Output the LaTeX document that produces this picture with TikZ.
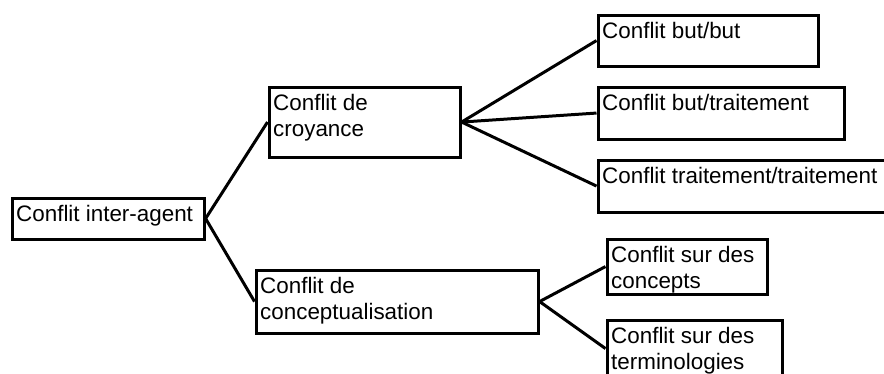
\documentclass[tikz,border=0pt]{standalone}
\usepackage{fontspec}
\setmainfont{Liberation Sans}
\usetikzlibrary{calc}

\begin{document}
\begin{tikzpicture}[x=1pt, y=-1pt]
    % ================= styles =================
    \tikzset{
        cbox/.style={draw=black, line width=3.1pt, anchor=north west, inner sep=0pt},
        ctext/.style={anchor=north west, align=left, inner sep=0pt, font=\fontsize{22.4}{26}\selectfont},
        link_edge/.style={line width=3pt, black}
    }
    \useasboundingbox (0,0) rectangle (884,373);

    % ================= racine =================
    \node[cbox, minimum width=192pt, minimum height=41pt] (agent) at (10.5,196.5) {};
    \node[ctext] (agent_t) at ($(agent.north west)+(5.5,9)$) {Conflit inter-agent};

    % ================= niveau 2 =================
    \node[cbox, minimum width=191pt, minimum height=70pt] (croyance) at (267.5,85.5) {};
    \node[ctext] (croyance_t) at ($(croyance.north west)+(5.5,9)$) {Conflit de\\croyance};

    \node[cbox, minimum width=282pt, minimum height=63pt] (concept) at (254.5,268.5) {};
    \node[ctext] (concept_t) at ($(concept.north west)+(5.5,9)$) {Conflit de\\conceptualisation};

    % ================= feuilles (croyance) =================
    \node[cbox, minimum width=220pt, minimum height=51pt] (butbut) at (596.5,13.5) {};
    \node[ctext] (butbut_t) at ($(butbut.north west)+(5.5,9)$) {Conflit but/but};

    \node[cbox, minimum width=246pt, minimum height=52pt] (buttrait) at (596.5,85.5) {};
    \node[ctext] (buttrait_t) at ($(buttrait.north west)+(5.5,9)$) {Conflit but/traitement};

    \node[cbox, minimum width=300pt, minimum height=52pt] (traittrait) at (596.5,158.5) {};
    \node[ctext] (traittrait_t) at ($(traittrait.north west)+(5.5,9)$) {Conflit traitement/traitement};

    % ================= feuilles (conceptualisation) =================
    \node[cbox, minimum width=160pt, minimum height=55pt] (concepts) at (605.5,237.5) {};
    \node[ctext] (concepts_t) at ($(concepts.north west)+(5.5,9)$) {Conflit sur des\\concepts};

    \node[cbox, minimum width=175pt, minimum height=57pt] (termino) at (605.5,318.5) {};
    \node[ctext] (termino_t) at ($(termino.north west)+(5.5,9)$) {Conflit sur des\\terminologies};

    % ================= liens =================
    \draw[link_edge] (agent.east) -- (croyance.west);
    \draw[link_edge] (agent.east) -- (concept.west);
    \foreach \f in {butbut, buttrait, traittrait}
        \draw[link_edge] (croyance.east) -- (\f.west);
    \foreach \f in {concepts, termino}
        \draw[link_edge] (concept.east) -- (\f.west);
\end{tikzpicture}
\end{document}
